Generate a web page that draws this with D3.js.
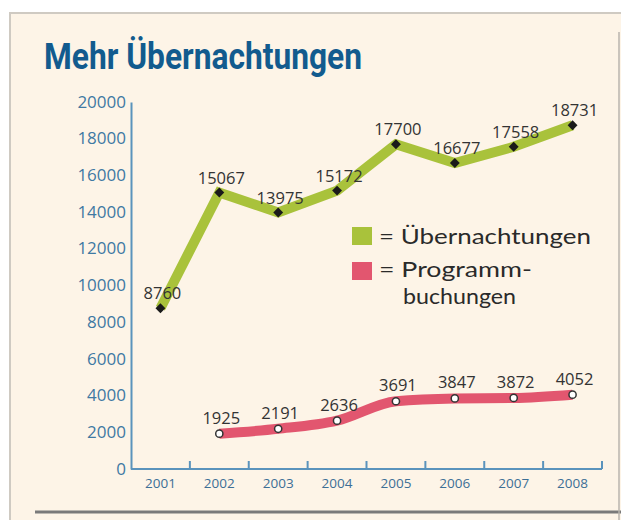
<!DOCTYPE html>
<html>
<head>
<meta charset="utf-8">
<script src="https://cdn.jsdelivr.net/npm/d3@7"></script>
<style>
  body { margin: 0; background: #fff; }
  svg { display: block; }
</style>
</head>
<body>
<div id="chart"></div>
<script>
const years = ['2001', '2002', '2003', '2004', '2005', '2006', '2007', '2008']
const uebernachtungen = [8760, 15067, 13975, 15172, 17700, 16677, 17558, 18731]
const programmbuchungen = [null, 1925, 2191, 2636, 3691, 3847, 3872, 4052]
const yTicks = [0, 2000, 4000, 6000, 8000, 10000, 12000, 14000, 16000, 18000, 20000]

const width = 621, height = 520
const green = '#a9c23b', pink = '#e2566f', axisBlue = '#5a93bc', labelBlue = '#3f79a3'

const svg = d3.select('#chart').append('svg')
  .attr('width', width)
  .attr('height', height)

// frame
svg.append('rect')
  .attr('x', 10).attr('y', 13)
  .attr('width', 620).attr('height', 520)
  .attr('fill', '#fdf4e7')
  .attr('stroke', '#cfcac2')
  .attr('stroke-width', 2)
svg.append('line')
  .attr('x1', 35).attr('x2', 621).attr('y1', 512).attr('y2', 512)
  .attr('stroke', '#7a7a7a').attr('stroke-width', 3)
svg.append('line')
  .attr('x1', 619).attr('x2', 619).attr('y1', 32).attr('y2', 520)
  .attr('stroke', '#b8b4ae').attr('stroke-width', 1.5)

// title
svg.append('text')
  .attr('x', 44).attr('y', 69)
  .attr('textLength', 318).attr('lengthAdjust', 'spacingAndGlyphs')
  .style('font-family', '"Liberation Sans Narrow", Roboto, sans-serif')
  .style('font-weight', 'bold')
  .style('font-size', '37px')
  .attr('fill', '#125b8e')
  .text('Mehr Übernachtungen')

const x = d3.scaleBand().domain(years).range([131, 602])
const y = d3.scaleLinear().domain([0, 20000]).range([469, 102])
const cx = d => x(d) + x.bandwidth() / 2

// y axis
const yAxis = svg.append('g')
  .attr('transform', 'translate(131,0)')
  .call(d3.axisLeft(y).tickValues(yTicks).tickFormat(d3.format('d'))
    .tickSize(0).tickSizeOuter(0).tickPadding(5))
yAxis.select('.domain').attr('stroke', axisBlue).attr('stroke-width', 2)
yAxis.selectAll('text')
  .attr('fill', labelBlue)
  .style('font-family', '"Open Sans", sans-serif')
  .style('font-size', '17px')
  .attr('dy', '0.3em')

// x axis: line with upward ticks at band edges
const xg = svg.append('g')
xg.append('line')
  .attr('x1', x.range()[0]).attr('x2', x.range()[1])
  .attr('y1', y(0)).attr('y2', y(0))
  .attr('stroke', axisBlue).attr('stroke-width', 2)
const edges = years.map(d => x(d)).concat([x.range()[1]])
xg.selectAll('.tick')
  .data(edges.slice(1))
  .enter().append('line')
  .attr('x1', d => d).attr('x2', d => d)
  .attr('y1', y(0)).attr('y2', y(0) - 8)
  .attr('stroke', axisBlue).attr('stroke-width', 2)
xg.selectAll('.yr')
  .data(years)
  .enter().append('text')
  .attr('x', d => cx(d))
  .attr('y', 488)
  .attr('text-anchor', 'middle')
  .attr('fill', '#3c6f96')
  .style('font-family', '"Open Sans", sans-serif')
  .style('font-size', '13.5px')
  .text(d => d)

// series
const greenData = years.map((d, i) => ({ year: d, v: uebernachtungen[i] }))
const pinkData = years.map((d, i) => ({ year: d, v: programmbuchungen[i] })).filter(d => d.v != null)

const lineG = d3.line().x(d => cx(d.year)).y(d => y(d.v))
const lineP = d3.line().x(d => cx(d.year)).y(d => y(d.v)).curve(d3.curveMonotoneX)

svg.append('path')
  .datum(greenData)
  .attr('d', lineG)
  .attr('fill', 'none')
  .attr('stroke', green)
  .attr('stroke-width', 10)
  .attr('stroke-linejoin', 'miter')

svg.append('path')
  .datum(pinkData)
  .attr('d', lineP)
  .attr('fill', 'none')
  .attr('stroke', pink)
  .attr('stroke-width', 10)
  .attr('stroke-linejoin', 'round')

// markers
svg.selectAll('.gm')
  .data(greenData)
  .enter().append('rect')
  .attr('x', -3.5).attr('y', -3.5)
  .attr('width', 7).attr('height', 7)
  .attr('fill', '#1a1a1a')
  .attr('transform', d => 'translate(' + [cx(d.year), y(d.v)] + ') rotate(45)')

svg.selectAll('.pm')
  .data(pinkData)
  .enter().append('circle')
  .attr('cx', d => cx(d.year)).attr('cy', d => y(d.v))
  .attr('r', 3.6)
  .attr('fill', '#fff')
  .attr('stroke', '#333')
  .attr('stroke-width', 1.5)

// value labels
const labelStyle = sel => sel
  .attr('text-anchor', 'middle')
  .attr('fill', '#333')
  .style('font-family', '"Open Sans", sans-serif')
  .style('font-size', '16.5px')

svg.selectAll('.gl')
  .data(greenData)
  .enter().append('text')
  .attr('x', d => cx(d.year) + 2)
  .attr('y', d => y(d.v) - 9)
  .call(labelStyle)
  .text(d => d.v)

svg.selectAll('.pl')
  .data(pinkData)
  .enter().append('text')
  .attr('x', d => cx(d.year) + 2)
  .attr('y', d => y(d.v) - 10)
  .call(labelStyle)
  .text(d => d.v)

// legend
const legend = svg.append('g')
legend.append('rect').attr('x', 352).attr('y', 227).attr('width', 20).attr('height', 18).attr('fill', green)
legend.append('rect').attr('x', 352).attr('y', 262).attr('width', 20).attr('height', 18).attr('fill', pink)
const legendStyle = sel => sel
  .attr('fill', '#2a2a2a')
  .attr('lengthAdjust', 'spacingAndGlyphs')
  .style('font-family', 'Lato, "Open Sans", sans-serif')
  .style('font-size', '22px')
legend.append('text')
  .attr('x', 379).attr('y', 244)
  .attr('textLength', 212)
  .call(legendStyle)
  .text('= Übernachtungen')
legend.append('text')
  .attr('x', 379).attr('y', 277)
  .attr('textLength', 153)
  .call(legendStyle)
  .text('= Programm-')
legend.append('text')
  .attr('x', 403).attr('y', 304)
  .attr('textLength', 113)
  .call(legendStyle)
  .text('buchungen')
</script>
</body>
</html>
